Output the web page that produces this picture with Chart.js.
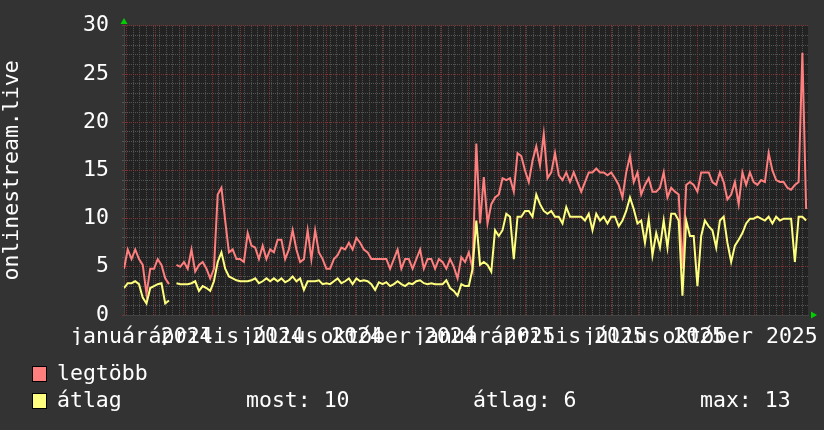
<!DOCTYPE html>
<html>
<head>
<meta charset="utf-8">
<script src="https://cdn.jsdelivr.net/npm/chart.js@4/dist/chart.umd.min.js"></script>
<style>
  body { margin: 0; background: #333; }
  #wrap { position: relative; width: 824px; height: 430px; }
  .txt { position: absolute; font: 21.5px 'DejaVu Sans Mono', monospace; color: #fff; line-height: 24px; white-space: pre; }
  .box { position: absolute; width: 13px; height: 14px; border: 1px solid #000; }
</style>
</head>
<body>
<div id="wrap">
  <canvas id="rrd" width="824" height="430"></canvas>
</div>
<script>

// one sample every 4 days, starting 2023-12-29
let stepDays = 4
let rangeDays = 730

let seriesNames = ['legtöbb', 'átlag']
let seriesColors = ['#ff7f7f', '#ffff7f']

let legtobb = [
    4.8, 6.8, 5.8, 6.8, 5.8, 5.2, 2.2, 4.8, 4.8, 5.8,
    5.2, 3.8, 3.2, null, 5.2, 5.0, 5.5, 4.8, 6.8, 4.5,
    5.2, 5.5, 4.8, 3.8, 4.8, 12.5, 13.2, 9.8, 6.5, 6.8,
    5.8, 5.8, 5.5, 8.5, 7.2, 7.0, 5.8, 7.2, 5.8, 6.8,
    6.5, 7.8, 7.8, 5.8, 6.8, 8.8, 6.8, 5.5, 5.8, 8.8,
    5.8, 8.8, 6.5, 5.8, 4.8, 4.8, 5.8, 6.2, 7.0, 6.8,
    7.5, 6.8, 8.0, 7.5, 6.8, 6.5, 5.8, 5.8, 5.8, 5.8,
    5.8, 4.8, 5.8, 6.8, 4.8, 5.8, 5.8, 4.8, 5.8, 6.8,
    4.8, 5.8, 5.8, 4.8, 5.8, 5.5, 4.8, 5.8, 5.0, 3.8,
    6.0, 5.5, 6.5, 4.8, 17.8, 9.5, 14.3, 9.5, 11.5, 12.2,
    12.5, 14.2, 14.0, 14.2, 12.8, 16.8, 16.5, 15.0, 13.8, 16.0,
    17.5, 15.5, 18.8, 14.2, 14.8, 16.8, 14.5, 14.0, 14.8, 13.8,
    14.8, 13.8, 12.8, 13.8, 14.8, 14.8, 15.2, 14.8, 14.8, 14.5,
    14.8, 14.2, 13.5, 12.2, 14.8, 16.5, 13.8, 14.8, 12.5, 13.5,
    14.2, 12.8, 12.8, 13.2, 14.8, 12.2, 13.2, 12.8, 12.5, 4.8,
    13.5, 13.8, 13.5, 12.8, 14.8, 14.8, 14.8, 13.8, 13.5, 14.8,
    13.8, 12.0, 12.5, 13.8, 11.5, 14.8, 13.5, 14.8, 13.8, 13.5,
    14.0, 13.8, 16.8, 15.0, 14.0, 13.8, 13.8, 13.2, 13.0, 13.5,
    13.8, 27.2, 11.0
]

let atlag = [
    2.8, 3.3, 3.3, 3.5, 3.2, 1.8, 1.2, 2.8, 3.0, 3.2,
    3.3, 1.2, 1.5, null, 3.3, 3.2, 3.2, 3.2, 3.3, 3.5,
    2.5, 3.0, 2.8, 2.5, 3.5, 5.5, 6.5, 4.8, 4.0, 3.8,
    3.6, 3.5, 3.5, 3.5, 3.6, 3.8, 3.3, 3.5, 3.8, 3.5,
    3.8, 3.5, 3.8, 3.4, 3.6, 4.0, 3.5, 3.8, 2.6, 3.5,
    3.5, 3.5, 3.6, 3.2, 3.3, 3.2, 3.5, 3.8, 3.3, 3.5,
    3.8, 3.2, 3.8, 3.5, 3.6, 3.5, 3.2, 2.6, 3.4, 3.2,
    3.4, 3.0, 3.2, 3.5, 3.2, 3.0, 3.3, 3.2, 3.5, 3.6,
    3.3, 3.2, 3.3, 3.2, 3.2, 3.2, 3.6, 2.8, 2.5, 2.0,
    3.2, 3.0, 3.0, 4.8, 9.8, 5.2, 5.5, 5.2, 4.5, 8.8,
    8.2, 8.8, 10.5, 10.2, 5.8, 10.2, 10.2, 10.8, 10.8, 10.2,
    12.5, 11.5, 10.8, 10.5, 10.8, 10.2, 10.2, 9.5, 11.2, 10.2,
    10.2, 10.2, 10.2, 9.8, 10.5, 8.8, 10.5, 9.8, 10.2, 9.5,
    10.2, 10.2, 9.2, 9.8, 10.8, 12.2, 11.0, 9.5, 9.8, 7.5,
    10.0, 6.2, 8.5, 7.0, 9.8, 7.0, 10.5, 10.5, 9.8, 2.0,
    9.8, 8.2, 8.2, 3.0, 8.2, 9.8, 9.2, 8.8, 7.0, 9.8,
    10.2, 7.5, 5.5, 7.2, 7.8, 8.5, 9.5, 10.0, 10.0, 10.2,
    10.0, 9.8, 10.2, 9.5, 10.2, 9.8, 10.0, 10.0, 10.0, 5.5,
    10.2, 10.2, 9.8
]

// x labels sit in the middle of their month
let xTickLabels = ['január 2024', 'április 2024', 'július 2024', 'október 2024',
                   'január 2025', 'április 2025', 'július 2025', 'október 2025']
let xTickDays = [18.5, 109, 200.5, 292.5, 384.5, 474, 565.5, 657.5]

let yTickLabels = [0, 5, 10, 15, 20, 25, 30]

let statNames = ['most', 'átlag', 'max']
let statValues = [10, 6, 13]


// grid positions: weekly minor lines, red line on every month start
let startMs = Date.UTC(2023, 11, 29)
let monthDays = []
for (let y = 2024; y <= 2025; y++) {
    for (let m = 0; m < 12; m++) {
        let d = (Date.UTC(y, m, 1) - startMs) / 86400000
        if (d <= rangeDays) monthDays.push(d)
    }
}
let gridDays = monthDays.slice()
for (let d = 3; d <= rangeDays; d += 7) {
    if (!monthDays.includes(d)) gridDays.push(d)
}
gridDays.sort(function (a, b) { return a - b })

let yGrid = []
for (let v = 0; v <= 30; v++) yGrid.push(v)

function toPoints (arr) {
    return arr.map(function (v, i) { return { x: i * stepDays, y: v } })
}

let gridRed = 'rgb(128,52,52)'
let gridGrey = 'rgb(84,84,84)'

let rrdDecor = {
    id: 'rrdDecor',
    beforeDraw: function (chart) {
        let c = chart.ctx, a = chart.chartArea
        c.save()
        c.fillStyle = '#222'
        c.fillRect(a.left, a.top, a.right - a.left, a.bottom - a.top)
        c.restore()
    },
    afterDraw: function (chart) {
        let c = chart.ctx, a = chart.chartArea
        c.save()
        c.fillStyle = '#00d000'
        c.beginPath()
        c.moveTo(a.left - 3.5, a.top - 2)
        c.lineTo(a.left + 3.5, a.top - 2)
        c.lineTo(a.left, a.top - 8)
        c.closePath()
        c.fill()
        c.beginPath()
        c.moveTo(a.right + 3, a.bottom - 3.5)
        c.lineTo(a.right + 3, a.bottom + 3.5)
        c.lineTo(a.right + 9, a.bottom)
        c.closePath()
        c.fill()
        c.restore()
    }
}

Chart.defaults.font.family = "'DejaVu Sans Mono', monospace"
Chart.defaults.font.size = 21.5

let canvs = document.getElementById('rrd').getContext('2d')
let rrdChart = new Chart(canvs, {
    type: 'line',
    data: {
        datasets: [
            { label: seriesNames[0], data: toPoints(legtobb), borderColor: seriesColors[0], order: 1 },
            { label: seriesNames[1], data: toPoints(atlag), borderColor: seriesColors[1], order: 0 }
        ]
    },
    options: {
        responsive: false,
        animation: false,
        spanGaps: false,
        elements: {
            line: { borderWidth: 2, tension: 0 },
            point: { radius: 0 }
        },
        layout: { padding: { top: 15, right: 16, bottom: 85, left: 0 } },
        plugins: {
            legend: { display: false },
            tooltip: { enabled: false }
        },
        scales: {
            x: {
                type: 'linear', position: 'bottom', min: 0, max: rangeDays,
                afterBuildTicks: function (s) { s.ticks = gridDays.map(function (v) { return { value: v } }) },
                ticks: { display: false, autoSkip: false },
                grid: {
                    drawTicks: false,
                    color: function (c) { return c.tick && monthDays.includes(c.tick.value) ? gridRed : gridGrey }
                },
                border: { color: '#444', dash: [1, 1] },
                afterFit: function (s) { s.height = 0 }
            },
            xl: {
                type: 'linear', position: 'bottom', min: 0, max: rangeDays,
                afterBuildTicks: function (s) { s.ticks = xTickDays.map(function (v) { return { value: v } }) },
                ticks: {
                    autoSkip: false, maxRotation: 0, minRotation: 0, color: '#fff', padding: 2,
                    callback: function (v, i) { return xTickLabels[i] }
                },
                grid: { display: false },
                border: { display: false },
                afterFit: function (s) { s.height = 30 }
            },
            y: {
                min: 0, max: 30,
                afterBuildTicks: function (s) { s.ticks = yGrid.map(function (v) { return { value: v } }) },
                ticks: {
                    autoSkip: false, color: '#fff', padding: 13,
                    callback: function (v) { return yTickLabels.includes(v) ? String(v) : '' }
                },
                grid: {
                    tickLength: 2,
                    color: function (c) { return c.tick && yTickLabels.includes(c.tick.value) ? gridRed : gridGrey }
                },
                border: { color: '#444', dash: [1, 1] },
                title: { display: true, text: 'onlinestream.live', color: '#fff', padding: 0 },
                afterFit: function (s) { s.width = 124 }
            }
        }
    },
    plugins: [rrdDecor]
})

// legend + stats below the graph, like rrdtool prints them
let wrap = document.getElementById('wrap')
function addEl (cls, left, top, text, bg) {
    let el = document.createElement('div')
    el.className = cls
    el.style.left = left + 'px'
    el.style.top = top + 'px'
    if (text) el.textContent = text
    if (bg) el.style.background = bg
    wrap.appendChild(el)
}
let rowTops = [361, 388]
let boxTops = [366, 393]
for (let i = 0; i < seriesNames.length; i++) {
    addEl('box', 32, boxTops[i], null, seriesColors[i])
    addEl('txt', 57, rowTops[i], seriesNames[i])
}
let statLeft = [246, 473, 700]
for (let i = 0; i < statNames.length; i++) {
    addEl('txt', statLeft[i], rowTops[1], statNames[i] + ': ' + statValues[i])
}

</script>
</body>
</html>
